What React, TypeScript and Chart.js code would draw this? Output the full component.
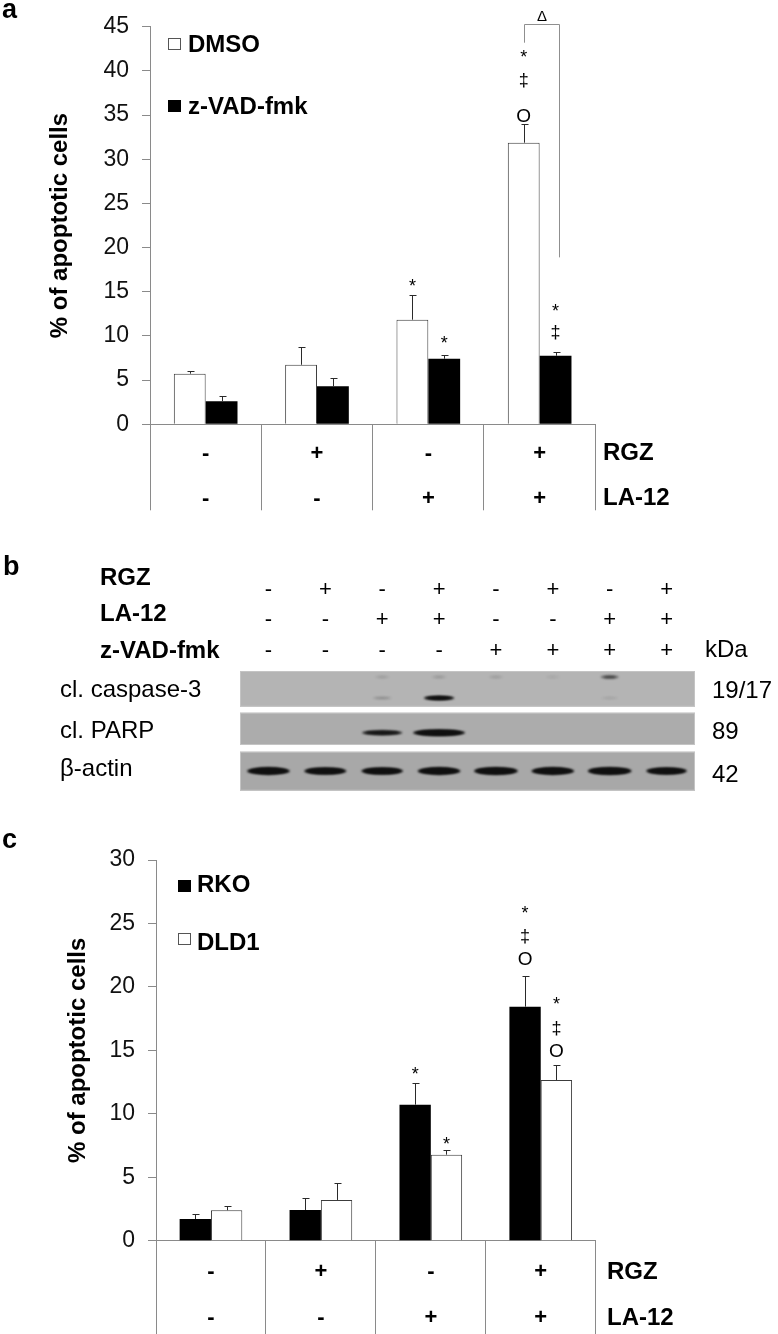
import React, { useEffect, useRef } from 'react';
import { Chart, registerables } from 'chart.js';

Chart.register(...registerables);

const FONT = "'Liberation Sans', Arial, Helvetica, sans-serif";
const W = 778;
const AXIS = '#8a8a8a';

// ================= Panel a data =================
const aGroups = ['1', '2', '3', '4'];
const aRowRGZ = ['-', '+', '-', '+'];
const aRowLA12 = ['-', '-', '+', '+'];
const aDMSO = [5.73, 6.74, 11.84, 31.88];
const aDMSOSd = [0.3, 2.03, 2.81, 2.12];
const aZVAD = [2.62, 4.3, 7.42, 7.76];
const aZVADSd = [0.59, 0.98, 0.48, 0.48];
const aTickMax = 45;
const aTickStep = 5;
const aMarkSeries = [0, 1, 0, 0, 0, 1, 1];
const aMarkGroup = [2, 2, 3, 3, 3, 3, 3];
const aMarkSymbol = ['*', '*', '*', '‡', 'O', '*', '‡'];
const aMarkValue = [16.2, 9.7, 42.1, 38.9, 35.0, 13.3, 10.3];
// bracket: top, left end, right end, delta label value
const aBracket = [45.3, 43.2, 18.9, 46.3];

// ================= Panel b data =================
const bLanes = ['1', '2', '3', '4', '5', '6', '7', '8'];
const bRGZ = ['-', '+', '-', '+', '-', '+', '-', '+'];
const bLA12 = ['-', '-', '+', '+', '-', '-', '+', '+'];
const bZVAD = ['-', '-', '-', '-', '+', '+', '+', '+'];
const bCasp3Lower = [0, 0, 0.1, 0.8, 0, 0, 0.04, 0];
const bCasp3Upper = [0, 0, 0.05, 0.06, 0.05, 0.03, 0.3, 0];
const bParp = [0, 0, 0.55, 1, 0, 0, 0, 0];
const bActin = [0.95, 0.92, 0.9, 0.95, 1, 0.95, 1, 0.85];
const bBlotLabels = ['cl. caspase-3', 'cl. PARP', 'β-actin'];
const bKda = ['19/17', '89', '42'];

// ================= Panel c data =================
const cGroups = ['1', '2', '3', '4'];
const cRowRGZ = ['-', '+', '-', '+'];
const cRowLA12 = ['-', '-', '+', '+'];
const cRKO = [1.71, 2.42, 10.72, 18.44];
const cRKOSd = [0.39, 0.94, 1.71, 2.44];
const cDLD1 = [2.4, 3.21, 6.78, 12.66];
const cDLD1Sd = [0.33, 1.31, 0.34, 1.15];
const cTickMax = 30;
const cTickStep = 5;
const cMarkSeries = [0, 1, 0, 0, 0, 1, 1, 1];
const cMarkGroup = [2, 2, 3, 3, 3, 3, 3, 3];
const cMarkSymbol = ['*', '*', '*', '‡', 'O', '*', '‡', 'O'];
const cMarkValue = [13.45, 7.94, 26.2, 23.9, 22.3, 19.0, 16.7, 15.0];

// ---------------------------------------------------------
function txt(
  ctx: CanvasRenderingContext2D,
  s: string,
  x: number,
  cy: number,
  size: number,
  weight: string,
  align: CanvasTextAlign,
  k: number
) {
  ctx.font = `${weight} ${size}px ${FONT}`;
  ctx.textAlign = align;
  ctx.textBaseline = 'alphabetic';
  ctx.fillStyle = '#000';
  ctx.fillText(s, x, cy + k * size);
}

type Series = { label: string; data: number[]; sd: number[]; fill: string };
type Spec = {
  top: number;
  height: number;
  area: { left: number; top: number; right: number; bottom: number };
  divLength: number;
  labels: string[];
  series: Series[];
  catPct: number;
  yMax: number;
  yStep: number;
  tickPad: number;
  titleX: number;
  letter: string;
  letterBase: number;
  legendX: number;
  legendTops: number[];
  legendDx: number;
  legendCenters: number[];
  rows: { label: string; signs: string[]; y: number }[];
  rowLabelX: number;
  marks: { ds: number; g: number; s: string; v: number }[];
  bracket?: number[];
};

function buildMarks(ds: number[], g: number[], s: string[], v: number[]) {
  return ds.map((d, i) => ({ ds: d, g: g[i], s: s[i], v: v[i] }));
}

function makeDeco(p: Spec) {
  return {
    id: 'deco',
    afterDatasetsDraw(chart: any) {
      const ctx: CanvasRenderingContext2D = chart.ctx;
      const xs = chart.scales.x;
      const ys = chart.scales.y;
      ctx.save();
      // error bars (upper)
      p.series.forEach((s, di) => {
        const meta = chart.getDatasetMeta(di);
        meta.data.forEach((el: any, i: number) => {
          const cx = Math.round(el.x) + 0.5;
          const yt = Math.round(ys.getPixelForValue(s.data[i] + s.sd[i])) + 0.5;
          ctx.strokeStyle = '#2a2a2a';
          ctx.lineWidth = 1;
          ctx.beginPath();
          ctx.moveTo(cx, el.y);
          ctx.lineTo(cx, yt);
          ctx.moveTo(cx - 3, yt);
          ctx.lineTo(cx + 4, yt);
          ctx.stroke();
        });
      });
      // significance marks
      p.marks.forEach((m) => {
        const el: any = chart.getDatasetMeta(m.ds).data[m.g];
        const size = m.s === '‡' ? 18 : m.s === 'O' ? 19 : 18;
        const k = m.s === '*' ? 0.58 : m.s === '‡' ? 0.27 : 0.36;
        txt(ctx, m.s, el.x, ys.getPixelForValue(m.v), size, 'normal', 'center', k);
      });
      // bracket
      if (p.bracket) {
        const [tv, lv, rv, dv] = p.bracket;
        const l = Math.round(chart.getDatasetMeta(0).data[3].x) + 0.5;
        const r = Math.round(chart.getDatasetMeta(1).data[3].x + 3) + 0.5;
        const yT = Math.round(ys.getPixelForValue(tv)) + 0.5;
        ctx.strokeStyle = '#8f8f8f';
        ctx.lineWidth = 1;
        ctx.beginPath();
        ctx.moveTo(l, ys.getPixelForValue(lv));
        ctx.lineTo(l, yT);
        ctx.lineTo(r, yT);
        ctx.lineTo(r, ys.getPixelForValue(rv));
        ctx.stroke();
        txt(ctx, 'Δ', (l + r) / 2, ys.getPixelForValue(dv), 15, 'normal', 'center', 0.36);
      }
      // legend
      p.series.forEach((s, i) => {
        const sy = p.legendTops[i];
        ctx.fillStyle = s.fill;
        ctx.fillRect(p.legendX, sy, 13, 12);
        ctx.strokeStyle = s.fill === '#000000' ? '#000' : '#555';
        ctx.lineWidth = 1;
        ctx.strokeRect(p.legendX + 0.5, sy + 0.5, 12, 11);
        txt(ctx, s.label, p.legendX + p.legendDx, p.legendCenters[i], 24, 'bold', 'left', 0.358);
      });
      // table rows
      p.rows.forEach((r) => {
        r.signs.forEach((sg, i) => {
          txt(ctx, sg, xs.getPixelForValue(i), r.y, 22, 'bold', 'center', 0.33);
        });
        txt(ctx, r.label, p.rowLabelX, r.y - 1, 24, 'bold', 'left', 0.358);
      });
      // panel letter
      ctx.font = `bold 27px ${FONT}`;
      ctx.textAlign = 'left';
      ctx.textBaseline = 'alphabetic';
      ctx.fillStyle = '#000';
      ctx.fillText(p.letter, 2, p.letterBase);
      ctx.restore();
    },
  };
}

function makeBarConfig(p: Spec): any {
  return {
    type: 'bar',
    data: {
      labels: p.labels,
      datasets: p.series.map((s) => ({
        label: s.label,
        data: s.data,
        backgroundColor: s.fill,
        borderColor: s.fill === '#000000' ? '#000000' : '#3c3c3c',
        borderWidth: s.fill === '#000000' ? 0 : 1,
        categoryPercentage: p.catPct,
        barPercentage: 1,
      })),
    },
    options: {
      responsive: false,
      animation: false,
      devicePixelRatio: 1,
      layout: { padding: { left: 0, top: p.area.top, right: W - p.area.right, bottom: 0 } },
      plugins: { legend: { display: false }, tooltip: { enabled: false }, title: { display: false } },
      scales: {
        x: {
          type: 'category',
          offset: true,
          grid: {
            offset: true,
            drawOnChartArea: false,
            drawTicks: true,
            tickLength: p.divLength,
            color: AXIS,
            lineWidth: 1,
          },
          border: { display: true, color: AXIS, width: 1 },
          ticks: { display: false },
          afterFit: (s: any) => {
            s.height = p.height - p.area.bottom;
          },
        },
        y: {
          min: 0,
          max: p.yMax,
          ticks: { stepSize: p.yStep, padding: p.tickPad, color: '#111', font: { family: FONT, size: 23 } },
          grid: { drawOnChartArea: false, drawTicks: true, tickLength: 8, color: AXIS, lineWidth: 1 },
          border: { display: true, color: AXIS, width: 1 },
          title: {
            display: true,
            text: '% of apoptotic cells',
            color: '#000',
            font: { family: FONT, size: 24, weight: 'bold' },
            padding: { top: p.titleX - 14.4, bottom: 0 },
          },
          afterFit: (s: any) => {
            s.width = p.area.left;
          },
        },
      },
    },
    plugins: [makeDeco(p)],
  };
}

// ---------------- blot (panel b) ----------------
const blotPlugin = {
  id: 'blot',
  afterDraw(chart: any) {
    const ctx: CanvasRenderingContext2D = chart.ctx;
    const xs = chart.scales.x;
    const ca = chart.chartArea;
    ctx.save();
    // panel letter
    ctx.font = `bold 27px ${FONT}`;
    ctx.fillStyle = '#000';
    ctx.textAlign = 'left';
    ctx.textBaseline = 'alphabetic';
    ctx.fillText('b', 3, 35);
    // treatment rows
    const rowLabels = ['RGZ', 'LA-12', 'z-VAD-fmk'];
    const rowSigns = [bRGZ, bLA12, bZVAD];
    const labelCenters = [36.5, 72, 109];
    const signCenters = [48.5, 79, 110];
    rowLabels.forEach((l, r) => {
      txt(ctx, l, 100, labelCenters[r], 24, 'bold', 'left', 0.358);
      rowSigns[r].forEach((s, i) => {
        txt(ctx, s, xs.getPixelForValue(i), signCenters[r], 22, 'normal', 'center', 0.33);
      });
    });
    txt(ctx, 'kDa', 705, 116.7, 24, 'normal', 'left', 0);
    // blot strips
    const strips = [
      { top: 131, bottom: 166.7, color: '#b4b4b4' },
      { top: 172.7, bottom: 205, color: '#acacac' },
      { top: 211.7, bottom: 250.7, color: '#a8a8a8' },
    ];
    const labelBase = [156.7, 198.3, 236];
    const kdaBase = [158.3, 199, 241.7];
    strips.forEach((st, i) => {
      ctx.fillStyle = st.color;
      ctx.fillRect(ca.left, st.top, ca.right - ca.left, st.bottom - st.top);
      ctx.strokeStyle = '#c4c4c4';
      ctx.lineWidth = 1;
      ctx.strokeRect(ca.left + 0.5, st.top + 0.5, ca.right - ca.left - 1, st.bottom - st.top - 1);
      txt(ctx, bBlotLabels[i], 60, labelBase[i], 24, 'normal', 'left', 0);
      txt(ctx, bKda[i], 712, kdaBase[i], 24, 'normal', 'left', 0);
    });
    // bands
    const bands = [
      { y: 158, vals: bCasp3Lower, w: 34, h: 5 },
      { y: 137, vals: bCasp3Upper, w: 28, h: 6 },
      { y: 192.7, vals: bParp, w: 52, h: 6.5 },
      { y: 231, vals: bActin, w: 44, h: 7.5 },
    ];
    bands.forEach((b) => {
      b.vals.forEach((v, i) => {
        if (v <= 0) return;
        const x = xs.getPixelForValue(i);
        const ww = b.w * (0.5 + 0.5 * v);
        const hh = b.h * (0.45 + 0.55 * v);
        const a = Math.min(1, v * 1.5);
        ctx.filter = 'blur(1.3px)';
        ctx.fillStyle = `rgba(16,16,16,${a})`;
        ctx.beginPath();
        ctx.ellipse(x, b.y, ww / 2, hh / 2, 0, 0, Math.PI * 2);
        ctx.fill();
        ctx.beginPath();
        ctx.ellipse(x, b.y, ww / 2 - 3, hh / 2 - 0.5, 0, 0, Math.PI * 2);
        ctx.fill();
        ctx.filter = 'none';
      });
    });
    ctx.restore();
  },
};

function makeBlotConfig(): any {
  return {
    type: 'bar',
    data: { labels: bLanes, datasets: [] },
    options: {
      responsive: false,
      animation: false,
      devicePixelRatio: 1,
      layout: { padding: { left: 240, right: W - 695, top: 131, bottom: 9 } },
      plugins: { legend: { display: false }, tooltip: { enabled: false } },
      scales: {
        x: { type: 'category', display: false, offset: true },
        y: { display: false, min: 0, max: 1 },
      },
    },
    plugins: [blotPlugin],
  };
}

// ---------------- specs ----------------
const specA: Spec = {
  top: 0,
  height: 530,
  area: { left: 150, top: 24, right: 595.3, bottom: 424.3 },
  divLength: 86,
  labels: aGroups,
  series: [
    { label: 'DMSO', data: aDMSO, sd: aDMSOSd, fill: '#ffffff' },
    { label: 'z-VAD-fmk', data: aZVAD, sd: aZVADSd, fill: '#000000' },
  ],
  catPct: 0.572,
  yMax: aTickMax,
  yStep: aTickStep,
  tickPad: 13,
  titleX: 60,
  letter: 'a',
  letterBase: 18,
  legendX: 168,
  legendTops: [38, 100],
  legendDx: 20,
  legendCenters: [43.5, 105],
  rows: [
    { label: 'RGZ', signs: aRowRGZ, y: 452.5 },
    { label: 'LA-12', signs: aRowLA12, y: 497.5 },
  ],
  rowLabelX: 603,
  marks: buildMarks(aMarkSeries, aMarkGroup, aMarkSymbol, aMarkValue),
  bracket: aBracket,
};

const specC: Spec = {
  top: 800,
  height: 534,
  area: { left: 156, top: 60, right: 595.7, bottom: 440.7 },
  divLength: 94,
  labels: cGroups,
  series: [
    { label: 'RKO', data: cRKO, sd: cRKOSd, fill: '#000000' },
    { label: 'DLD1', data: cDLD1, sd: cDLD1Sd, fill: '#ffffff' },
  ],
  catPct: 0.57,
  yMax: cTickMax,
  yStep: cTickStep,
  tickPad: 13,
  titleX: 78,
  letter: 'c',
  letterBase: 48,
  legendX: 178,
  legendTops: [80, 133],
  legendDx: 19,
  legendCenters: [83, 141],
  rows: [
    { label: 'RGZ', signs: cRowRGZ, y: 471 },
    { label: 'LA-12', signs: cRowLA12, y: 517 },
  ],
  rowLabelX: 607,
  marks: buildMarks(cMarkSeries, cMarkGroup, cMarkSymbol, cMarkValue),
};

function ChartCanvas({ top, height, make }: { top: number; height: number; make: () => any }) {
  const ref = useRef<HTMLCanvasElement>(null);
  useEffect(() => {
    const chart = new Chart(ref.current as HTMLCanvasElement, make());
    return () => chart.destroy();
  }, []);
  return (
    <div style={{ position: 'absolute', left: 0, top, width: W, height }}>
      <canvas ref={ref} width={W} height={height} style={{ width: W, height, display: 'block' }} />
    </div>
  );
}

export default function App() {
  return (
    <div
      style={{
        position: 'absolute',
        left: 0,
        top: 0,
        width: W,
        height: 1334,
        background: '#fff',
        overflow: 'hidden',
      }}
    >
      <ChartCanvas top={specA.top} height={specA.height} make={() => makeBarConfig(specA)} />
      <ChartCanvas top={540} height={260} make={makeBlotConfig} />
      <ChartCanvas top={specC.top} height={specC.height} make={() => makeBarConfig(specC)} />
    </div>
  );
}
